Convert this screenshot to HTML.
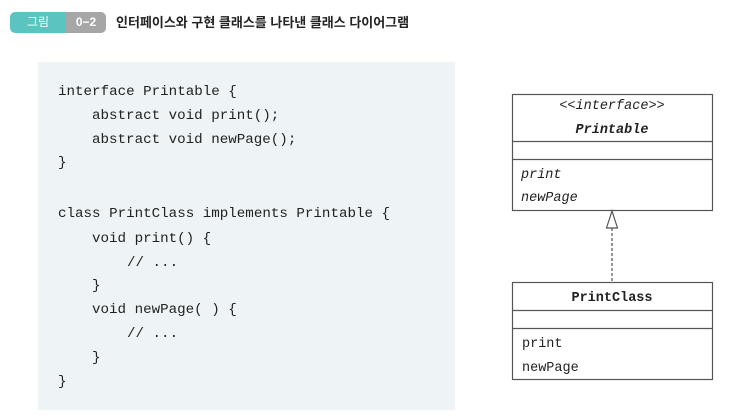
<!DOCTYPE html>
<html><head><meta charset="utf-8"><style>
body{margin:0;width:736px;height:420px;background:#fff;position:relative;overflow:hidden;font-family:"Liberation Sans","Noto Sans CJK KR",sans-serif}
.abs{position:absolute}
.code{font-family:"Liberation Mono",monospace;font-size:14.2px;color:#222;white-space:pre;line-height:17px}
</style></head><body>
<div class="abs" style="left:10px;top:12px;width:56px;height:21px;background:#5cc4c0;border-radius:5px 0 0 5px;color:#fff;font-size:12px;line-height:21px;text-align:center">그림</div>
<div class="abs" style="left:66px;top:12px;width:40px;height:21px;background:#a6a6a6;border-radius:0 5px 5px 0;color:#fff;font-size:12px;line-height:21px;text-align:center;font-weight:bold">0−2</div>
<div class="abs" style="left:116px;top:13px;font-size:13px;line-height:19px;color:#222;font-weight:bold">인터페이스와 구현 클래스를 나타낸 클래스 다이어그램</div>
<div class="abs" style="left:38px;top:62px;width:417px;height:348px;background:#eef4f5"></div>
<div class="abs code" style="left:58px;top:84px">interface Printable {</div>
<div class="abs code" style="left:92px;top:108px">abstract void print();</div>
<div class="abs code" style="left:92px;top:132px">abstract void newPage();</div>
<div class="abs code" style="left:58px;top:155px">}</div>
<div class="abs code" style="left:58px;top:206px">class PrintClass implements Printable {</div>
<div class="abs code" style="left:92px;top:231px">void print() {</div>
<div class="abs code" style="left:127px;top:255px">// ...</div>
<div class="abs code" style="left:92px;top:278px">}</div>
<div class="abs code" style="left:92px;top:302px">void newPage( ) {</div>
<div class="abs code" style="left:127px;top:326px">// ...</div>
<div class="abs code" style="left:92px;top:350px">}</div>
<div class="abs code" style="left:58px;top:374px">}</div>
<svg class="abs" style="left:0;top:0" width="736" height="420">
<g fill="#fff" stroke="#555" stroke-width="1.2">
<rect x="512.5" y="94.5" width="200" height="116"/>
<line x1="512" y1="141.5" x2="713" y2="141.5"/>
<line x1="512" y1="159.5" x2="713" y2="159.5"/>
<rect x="512.5" y="282.5" width="200" height="97"/>
<line x1="512" y1="310.5" x2="713" y2="310.5"/>
<line x1="512" y1="328.5" x2="713" y2="328.5"/>
<line x1="612" y1="228" x2="612" y2="282" stroke-dasharray="3,2"/>
<polygon points="612,211 606.5,228 617.5,228"/>
</g>
<g font-family="Liberation Mono, monospace" font-size="13.5" fill="#222">
<text x="612" y="109" text-anchor="middle" font-style="italic">&lt;&lt;interface&gt;&gt;</text>
<text x="612" y="133" text-anchor="middle" font-style="italic" font-weight="bold">Printable</text>
<text x="521" y="178" font-style="italic">print</text>
<text x="521" y="201" font-style="italic">newPage</text>
<text x="612" y="301" text-anchor="middle" font-weight="bold">PrintClass</text>
<text x="522" y="347">print</text>
<text x="522" y="371">newPage</text>
</g>
</svg>
</body></html>
